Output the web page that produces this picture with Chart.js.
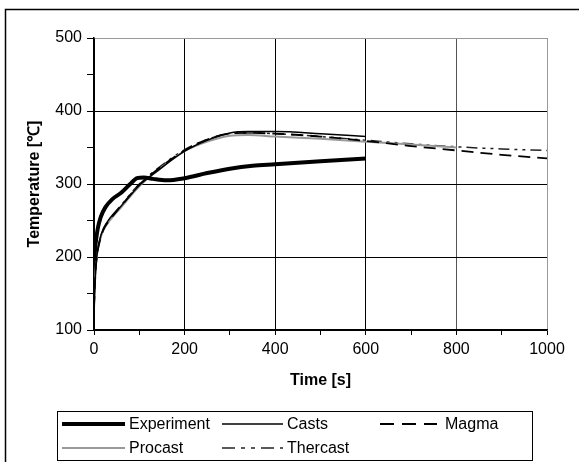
<!DOCTYPE html>
<html>
<head>
<meta charset="utf-8">
<script src="https://cdn.jsdelivr.net/npm/chart.js@4/dist/chart.umd.min.js"></script>
<style>
  body { margin: 0; background: #fff; }
  #wrap { width: 579px; height: 462px; }
</style>
</head>
<body>
<div id="wrap"><canvas id="tempChart" width="579" height="462"></canvas></div>
<script>
// values
const expTime  = [0, 3, 8, 15, 25, 40, 60, 80, 95, 110, 130, 160, 200, 250, 300, 350, 400, 500, 600];
const expTemp  = [195, 215, 238, 255, 268, 279, 288, 300, 308, 309, 307, 305, 308, 315, 321, 325, 327, 331, 335];

const castsTime = [0, 3, 6, 12, 20, 35, 60, 100, 140, 200, 250, 300, 340, 400, 500, 600];
const castsTemp = [128, 175, 200, 222, 238, 253, 270, 298, 318, 345, 360, 370, 372, 372, 369, 365];

const procastTime = [0, 3, 6, 12, 20, 35, 60, 100, 140, 200, 250, 300, 340, 400, 500, 600, 700, 800];
const procastTemp = [130, 178, 200, 220, 236, 250, 268, 297, 318, 345, 358, 366, 367, 365, 362, 358, 354, 350];

const magmaTime = [0, 3, 6, 12, 20, 35, 60, 100, 140, 200, 250, 300, 340, 400, 500, 600, 700, 800, 900, 1000];
const magmaTemp = [130, 176, 199, 220, 236, 251, 270, 299, 320, 346, 361, 369, 370, 369, 365, 359, 352, 346, 340, 335];

const thercastTime = [0, 3, 6, 12, 20, 35, 60, 100, 140, 200, 250, 300, 340, 400, 500, 600, 700, 800, 900, 1000];
const thercastTemp = [130, 177, 200, 221, 237, 252, 271, 300, 321, 347, 361, 369, 370, 369, 365, 360, 355, 351, 348, 346];

const seriesNames = ["Experiment", "Casts", "Magma", "Procast", "Thercast"];

function pairs(xs, ys) {
    return xs.map((x, i) => ({ x: x, y: ys[i] }));
}

const FONT = "'Liberation Sans', Arial, sans-serif";
const FS = 16;

// legend box drawn on the canvas, 3 columns x 2 rows
const legendBox = {
    id: "legendBox",
    afterDraw(chart) {
        const c = chart.ctx;
        c.save();
        // outer frame of the figure
        c.strokeStyle = "#000";
        c.lineWidth = 1.5;
        c.beginPath();
        c.moveTo(5.5, 470);
        c.lineTo(5.5, 9.5);
        c.lineTo(590, 9.5);
        c.stroke();

        c.lineWidth = 1;
        c.strokeRect(57.5, 411.5, 475, 49);

        const slots = [[62, 424], [222, 424], [380, 424], [62, 448], [222, 448]];
        const lineLen = [63, 61, 57, 63, 61];
        const gap = [4, 4, 8, 4, 4];
        c.font = FS + "px " + FONT;
        c.fillStyle = "#000";
        c.textBaseline = "middle";
        chart.data.datasets.forEach((ds, i) => {
            const [x, y] = slots[i];
            c.strokeStyle = ds.borderColor;
            c.lineWidth = ds.borderWidth;
            c.setLineDash(ds.legendDash || []);
            c.beginPath();
            c.moveTo(x, y);
            c.lineTo(x + lineLen[i], y);
            c.stroke();
            c.setLineDash([]);
            c.fillText(ds.label, x + lineLen[i] + gap[i], y + 1);
        });
        c.restore();
    }
};

const ctx = document.getElementById("tempChart").getContext("2d");
new Chart(ctx, {
    type: "line",
    data: {
        datasets: [
            { label: seriesNames[0], data: pairs(expTime, expTemp), borderColor: "#000", borderWidth: 4 },
            { label: seriesNames[1], data: pairs(castsTime, castsTemp), borderColor: "#000", borderWidth: 1.5 },
            { label: seriesNames[2], data: pairs(magmaTime, magmaTemp), borderColor: "#000", borderWidth: 1.8,
              borderDash: [12, 7], legendDash: [14, 8] },
            { label: seriesNames[3], data: pairs(procastTime, procastTemp), borderColor: "#999", borderWidth: 2 },
            { label: seriesNames[4], data: pairs(thercastTime, thercastTemp), borderColor: "#222", borderWidth: 1.5,
              borderDash: [11, 5, 3, 5, 3, 5], legendDash: [13, 6, 4, 6, 4, 6] }
        ]
    },
    options: {
        responsive: false,
        animation: false,
        elements: {
            point: { radius: 0 },
            line: { cubicInterpolationMode: "monotone", fill: false }
        },
        layout: { padding: { top: 38, right: 32, left: 0, bottom: 0 } },
        plugins: { legend: { display: false }, tooltip: { enabled: false } },
        scales: {
            x: {
                type: "linear",
                min: 0, max: 1000,
                afterFit: s => { s.height = 132; },
                ticks: {
                    stepSize: 100,
                    autoSkip: false,
                    maxRotation: 0,
                    color: "#000",
                    padding: 5,
                    font: { family: FONT, size: FS },
                    callback: v => (v % 200 === 0 ? v : "")
                },
                grid: {
                    color: c => {
                        if (!c.tick) return "#000";
                        if (c.tick.value === 1000) return "#999";
                        if (c.tick.value === 800) return "#555";
                        return c.tick.value % 200 === 0 ? "#000" : "rgba(0,0,0,0)";
                    },
                    tickColor: "#000",
                    tickLength: 5,
                    lineWidth: 1
                },
                border: { color: "#000", width: 1.5 },
                title: {
                    display: true,
                    text: "Time [s]",
                    color: "#000",
                    font: { family: FONT, size: FS, weight: "bold" },
                    padding: { top: 0, bottom: 72 }
                }
            },
            y: {
                min: 100, max: 500,
                afterFit: s => { s.width = 94; },
                ticks: {
                    stepSize: 50,
                    autoSkip: false,
                    color: "#000",
                    padding: 5,
                    font: { family: FONT, size: FS },
                    callback: v => (v % 100 === 0 ? v : "")
                },
                grid: {
                    color: c => (c.tick && c.tick.value === 500 ? "#999" : (c.tick && c.tick.value % 100 === 0 ? "#000" : "rgba(0,0,0,0)")),
                    tickColor: "#000",
                    tickLength: 7,
                    lineWidth: 1
                },
                border: { color: "#000", width: 1.5 },
                title: {
                    display: true,
                    text: "Temperature [℃]",
                    color: "#000",
                    font: { family: FONT, size: FS, weight: "bold" },
                    padding: { top: 25, bottom: 0 }
                }
            }
        }
    },
    plugins: [legendBox]
});
</script>
</body>
</html>
